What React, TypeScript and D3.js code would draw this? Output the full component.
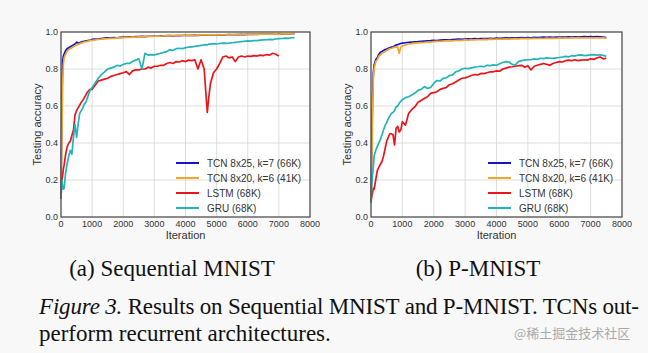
import React from "react";
import * as d3 from "d3";

// iterations sampled for (a) Sequential MNIST
const seqIter = [
  0, 25, 50, 75, 100, 150, 200, 250, 300, 350, 400, 450, 500, 550, 600, 650, 700, 750, 800, 850, 900, 950, 1000,
  1100, 1200, 1300, 1400, 1500, 1600, 1700, 1800, 1900, 2000,
  2100, 2200, 2300, 2400, 2500, 2600, 2700, 2800, 2900, 3000,
  3100, 3200, 3300, 3400, 3500, 3600, 3700, 3800, 3900, 4000,
  4100, 4200, 4300, 4400, 4500, 4600, 4650, 4700, 4750, 4800, 4900, 5000,
  5100, 5200, 5300, 5400, 5500, 5600, 5700, 5800, 5900, 6000,
  6100, 6200, 6300, 6400, 6500, 6600, 6700, 6800, 6900, 7000,
  7100, 7200, 7300, 7400, 7500,
];

const seqTcn7 = [
  0.1, 0.55, 0.84, 0.87, 0.88, 0.9, 0.91, 0.915, 0.92, 0.925, 0.93, 0.935, 0.945, 0.94, 0.942, 0.946, 0.948, 0.95, 0.952, 0.953, 0.955, 0.957, 0.96,
  0.962, 0.963, 0.965, 0.967, 0.968, 0.968, 0.97, 0.969, 0.971, 0.972,
  0.972, 0.974, 0.973, 0.975, 0.975, 0.976, 0.975, 0.977, 0.977, 0.978,
  0.977, 0.979, 0.978, 0.98, 0.98, 0.979, 0.981, 0.98, 0.981, 0.982,
  0.981, 0.982, 0.983, 0.982, 0.983, 0.983, 0.984, 0.983, 0.984, 0.984, 0.983, 0.985,
  0.984, 0.985, 0.985, 0.986, 0.985, 0.986, 0.986, 0.987, 0.986, 0.987,
  0.987, 0.988, 0.987, 0.988, 0.988, 0.989, 0.988, 0.989, 0.989, 0.99,
  0.989, 0.99, 0.99, 0.99, 0.991,
];

const seqTcn6 = [
  0.1, 0.4, 0.7, 0.82, 0.86, 0.88, 0.895, 0.905, 0.91, 0.915, 0.92, 0.925, 0.93, 0.933, 0.936, 0.94, 0.943, 0.946, 0.948, 0.95, 0.952, 0.954, 0.955,
  0.957, 0.96, 0.961, 0.963, 0.964, 0.966, 0.966, 0.968, 0.968, 0.97,
  0.971, 0.971, 0.973, 0.972, 0.974, 0.975, 0.975, 0.976, 0.976, 0.977,
  0.978, 0.977, 0.979, 0.979, 0.98, 0.98, 0.98, 0.981, 0.981, 0.982,
  0.982, 0.983, 0.982, 0.983, 0.984, 0.984, 0.984, 0.985, 0.984, 0.985, 0.985, 0.985,
  0.986, 0.985, 0.986, 0.986, 0.987, 0.986, 0.987, 0.987, 0.988, 0.987,
  0.988, 0.988, 0.988, 0.989, 0.988, 0.989, 0.989, 0.989, 0.99, 0.989,
  0.99, 0.99, 0.99, 0.991, 0.99,
];

const seqLstm = [
  0.1, 0.2, 0.22, 0.26, 0.28, 0.34, 0.38, 0.4, 0.41, 0.44, 0.47, 0.55, 0.575, 0.59, 0.605, 0.62, 0.63, 0.645, 0.66, 0.675, 0.685, 0.69, 0.69,
  0.714, 0.735, 0.74, 0.745, 0.75, 0.76, 0.765, 0.77, 0.775, 0.78,
  0.786, 0.77, 0.79, 0.795, 0.795, 0.8, 0.8, 0.81, 0.805, 0.815,
  0.815, 0.82, 0.82, 0.83, 0.835, 0.83, 0.84, 0.838, 0.845, 0.84,
  0.848, 0.845, 0.85, 0.8, 0.85, 0.8, 0.68, 0.565, 0.65, 0.72, 0.78, 0.8,
  0.83, 0.865, 0.87, 0.86, 0.865, 0.84, 0.865, 0.87, 0.865, 0.87,
  0.868, 0.872, 0.87, 0.875, 0.872, 0.878, 0.875, 0.885, 0.88, 0.87,
  null, null, null, null, null,
];

const seqGru = [
  0.1, 0.2, 0.17, 0.15, 0.155, 0.24, 0.29, 0.33, 0.36, 0.34, 0.43, 0.5, 0.43, 0.5, 0.56, 0.575, 0.59, 0.61, 0.62, 0.645, 0.67, 0.69, 0.7,
  0.725, 0.75, 0.77, 0.785, 0.8, 0.805, 0.81, 0.82, 0.815, 0.825,
  0.83, 0.83, 0.84, 0.848, 0.855, 0.8, 0.885, 0.875, 0.878, 0.876,
  0.88, 0.885, 0.89, 0.894, 0.905, 0.9, 0.91, 0.912, 0.91, 0.915,
  0.918, 0.92, 0.922, 0.925, 0.928, 0.93, 0.932, 0.93, 0.935, 0.934, 0.937, 0.935,
  0.938, 0.94, 0.939, 0.94, 0.942, 0.944, 0.946, 0.948, 0.95, 0.952,
  0.951, 0.954, 0.953, 0.956, 0.957, 0.958, 0.96, 0.959, 0.962, 0.964,
  0.965, 0.967, 0.966, 0.969, 0.97,
];

// iterations sampled for (b) P-MNIST
const pIter = [
  0, 25, 50, 75, 100, 150, 200, 250, 300, 350, 400, 450, 500, 550, 600, 650, 700, 750, 800, 850, 900, 950, 1000,
  1100, 1200, 1300, 1400, 1500, 1600, 1700, 1800, 1900, 2000,
  2100, 2200, 2300, 2400, 2500, 2600, 2700, 2800, 2900, 3000,
  3100, 3200, 3300, 3400, 3500, 3600, 3700, 3800, 3900, 4000,
  4100, 4200, 4300, 4400, 4500, 4600, 4700, 4800, 4900, 5000,
  5100, 5200, 5300, 5400, 5500, 5600, 5700, 5800, 5900, 6000,
  6100, 6200, 6300, 6400, 6500, 6600, 6700, 6800, 6900, 7000,
  7100, 7200, 7300, 7400, 7500,
];

const pTcn7 = [
  0.08, 0.4, 0.65, 0.78, 0.82, 0.85, 0.86, 0.88, 0.89, 0.895, 0.9, 0.905, 0.908, 0.912, 0.915, 0.918, 0.92, 0.925, 0.93, 0.932, 0.935, 0.938, 0.94,
  0.942, 0.944, 0.946, 0.947, 0.948, 0.95, 0.951, 0.952, 0.953, 0.955,
  0.954, 0.956, 0.957, 0.958, 0.957, 0.959, 0.96, 0.961, 0.96, 0.962,
  0.963, 0.962, 0.964, 0.963, 0.965, 0.964, 0.965, 0.966, 0.965, 0.967,
  0.966, 0.967, 0.968, 0.967, 0.969, 0.968, 0.969, 0.97, 0.969, 0.97,
  0.969, 0.971, 0.97, 0.971, 0.972, 0.971, 0.972, 0.971, 0.973, 0.972,
  0.973, 0.972, 0.974, 0.973, 0.974, 0.973, 0.974, 0.975, 0.974, 0.975,
  0.974, 0.975, 0.974, 0.972, 0.97,
];

const pTcn6 = [
  0.08, 0.3, 0.55, 0.75, 0.8, 0.84, 0.85, 0.87, 0.876, 0.885, 0.89, 0.895, 0.9, 0.905, 0.91, 0.912, 0.915, 0.918, 0.92, 0.918, 0.885, 0.918, 0.925,
  0.93, 0.935, 0.937, 0.94, 0.941, 0.943, 0.944, 0.946, 0.945, 0.948,
  0.949, 0.95, 0.951, 0.952, 0.953, 0.952, 0.954, 0.955, 0.955, 0.957,
  0.956, 0.958, 0.957, 0.959, 0.958, 0.96, 0.959, 0.961, 0.96, 0.962,
  0.961, 0.962, 0.963, 0.962, 0.963, 0.964, 0.963, 0.965, 0.964, 0.965,
  0.964, 0.966, 0.965, 0.966, 0.965, 0.967, 0.966, 0.967, 0.966, 0.968,
  0.967, 0.968, 0.967, 0.968, 0.969, 0.968, 0.969, 0.968, 0.969, 0.968,
  0.969, 0.968, 0.969, 0.968, 0.967,
];

const pLstm = [
  0.08, 0.11, 0.13, 0.155, 0.15, 0.2, 0.25, 0.27, 0.285, 0.3, 0.33, 0.37, 0.41, 0.43, 0.45, 0.45, 0.445, 0.39, 0.48, 0.49, 0.46, 0.47, 0.515,
  0.497, 0.56, 0.58, 0.596, 0.62, 0.63, 0.641, 0.65, 0.668, 0.672,
  0.677, 0.69, 0.695, 0.7, 0.715, 0.72, 0.73, 0.74, 0.75, 0.752,
  0.758, 0.765, 0.77, 0.768, 0.776, 0.775, 0.78, 0.785, 0.785, 0.79,
  0.788, 0.8, 0.805, 0.81, 0.812, 0.815, 0.818, 0.82, 0.81, 0.818,
  0.795, 0.815, 0.82, 0.825, 0.83, 0.825, 0.82, 0.83, 0.835, 0.84,
  0.838, 0.845, 0.848, 0.845, 0.85, 0.845, 0.848, 0.85, 0.848, 0.855,
  0.852, 0.86, 0.865, 0.855, 0.858,
];

const pGru = [
  0.08, 0.17, 0.23, 0.27, 0.33, 0.36, 0.38, 0.4, 0.42, 0.445, 0.47, 0.495, 0.51, 0.53, 0.545, 0.56, 0.565, 0.575, 0.595, 0.6, 0.615, 0.625, 0.635,
  0.645, 0.65, 0.66, 0.67, 0.685, 0.69, 0.705, 0.695, 0.7, 0.722,
  0.738, 0.735, 0.75, 0.752, 0.765, 0.768, 0.785, 0.79, 0.8, 0.804,
  0.802, 0.806, 0.81, 0.812, 0.815, 0.812, 0.82, 0.818, 0.822, 0.82,
  0.828, 0.835, 0.84, 0.838, 0.825, 0.822, 0.84, 0.845, 0.848, 0.85,
  0.85, 0.855, 0.852, 0.858, 0.856, 0.86, 0.858, 0.857, 0.86, 0.862,
  0.865, 0.868, 0.866, 0.872, 0.87, 0.875, 0.876, 0.872, 0.874, 0.876,
  0.878, 0.875, 0.877, 0.874, 0.868,
];

const seriesNames = ["TCN 8x25, k=7 (66K)", "TCN 8x20, k=6 (41K)", "LSTM (68K)", "GRU (68K)"];
const seriesColors = ["#1414c8", "#f2a72a", "#e8161c", "#22b4b8"];
const xTicks = [0, 1000, 2000, 3000, 4000, 5000, 6000, 7000, 8000];
const yTicks = [0, 0.2, 0.4, 0.6, 0.8, 1.0];

const sans = "'Liberation Sans', Arial, sans-serif";
const serif = "'Liberation Serif', 'Times New Roman', serif";

type Props = { left: number; width: number; iter: number[]; series: (number | null)[][] };

const Panel = ({ left, width, iter, series }: Props) => {
  const top = 32;
  const bottom = 217;
  const x = d3.scaleLinear().domain([0, 8000]).range([left, left + width]);
  const y = d3.scaleLinear().domain([0, 1]).range([bottom, top]);
  const fmt = d3.format(".1f");

  const line = d3
    .line<number | null>()
    .defined((d) => d != null)
    .x((d, i) => x(iter[i]))
    .y((d) => y(d as number));

  const legendX = left + width - 103;

  return (
    <g>
      <rect x={left} y={top} width={width} height={bottom - top} fill="#ffffff" />
      {/* grid */}
      {xTicks.map((t) => (
        <line key={"gx" + t} x1={x(t)} x2={x(t)} y1={top} y2={bottom} stroke="#d6d6d6" strokeWidth={0.8} />
      ))}
      {yTicks.map((t) => (
        <line key={"gy" + t} x1={left} x2={left + width} y1={y(t)} y2={y(t)} stroke="#d6d6d6" strokeWidth={0.8} />
      ))}
      {/* curves */}
      {series.map((s, i) => (
        <path key={"s" + i} d={line(s) || ""} fill="none" stroke={seriesColors[i]} strokeWidth={1.7} strokeLinejoin="round" />
      ))}
      <rect x={left} y={top} width={width} height={bottom - top} fill="none" stroke="#4a4a4a" strokeWidth={1.2} />
      {/* tick labels */}
      {yTicks.map((t) => (
        <text key={"ly" + t} x={left - 3} y={y(t)} dy="0.35em" textAnchor="end" fontSize={9} fill="#333" fontFamily={sans}>
          {fmt(t)}
        </text>
      ))}
      {xTicks.map((t) => (
        <text key={"lx" + t} x={x(t)} y={bottom + 10} textAnchor="middle" fontSize={9} fill="#333" fontFamily={sans}>
          {t}
        </text>
      ))}
      <text x={left + width / 2} y={239} textAnchor="middle" fontSize={11} fill="#333" fontFamily={sans}>
        Iteration
      </text>
      <text
        transform={`translate(${left - 24},${(top + bottom) / 2}) rotate(-90)`}
        textAnchor="middle"
        dy="0.35em"
        fontSize={11}
        fill="#333"
        fontFamily={sans}
      >
        Testing accuracy
      </text>
      {/* legend */}
      {seriesNames.map((n, i) => (
        <g key={"lg" + i} transform={`translate(0,${163 + i * 15})`}>
          <line x1={legendX - 31} x2={legendX - 8} y1={0} y2={0} stroke={seriesColors[i]} strokeWidth={2} />
          <text x={legendX} y={0} dy="0.35em" fontSize={10} fill="#333" fontFamily={sans}>
            {n}
          </text>
        </g>
      ))}
    </g>
  );
};

export default function App() {
  return (
    <svg width={648} height={353} style={{ position: "absolute", left: 0, top: 0, display: "block" }}>
      <rect width={648} height={353} fill="#f8f8f8" />
      <Panel left={61} width={249} iter={seqIter} series={[seqTcn7, seqTcn6, seqLstm, seqGru]} />
      <Panel left={371} width={251} iter={pIter} series={[pTcn7, pTcn6, pLstm, pGru]} />

      <text x={172} y={276} textAnchor="middle" fontSize={23} fill="#111" fontFamily={serif}>
        (a) Sequential MNIST
      </text>
      <text x={478} y={276} textAnchor="middle" fontSize={23} fill="#111" fontFamily={serif}>
        (b) P-MNIST
      </text>

      <text x={39} y={314} fontSize={23} fill="#111" fontFamily={serif} textLength={600} lengthAdjust="spacing">
        <tspan fontStyle="italic">Figure 3.</tspan> Results on Sequential MNIST and P-MNIST. TCNs out-
      </text>
      <text x={39} y={341} fontSize={23} fill="#111" fontFamily={serif}>
        perform recurrent architectures.
      </text>
      <text x={514} y={338} fontSize={13} fill="#aaaaaa" fontFamily="'Noto Sans CJK SC', sans-serif">
        @稀土掘金技术社区
      </text>
    </svg>
  );
}
